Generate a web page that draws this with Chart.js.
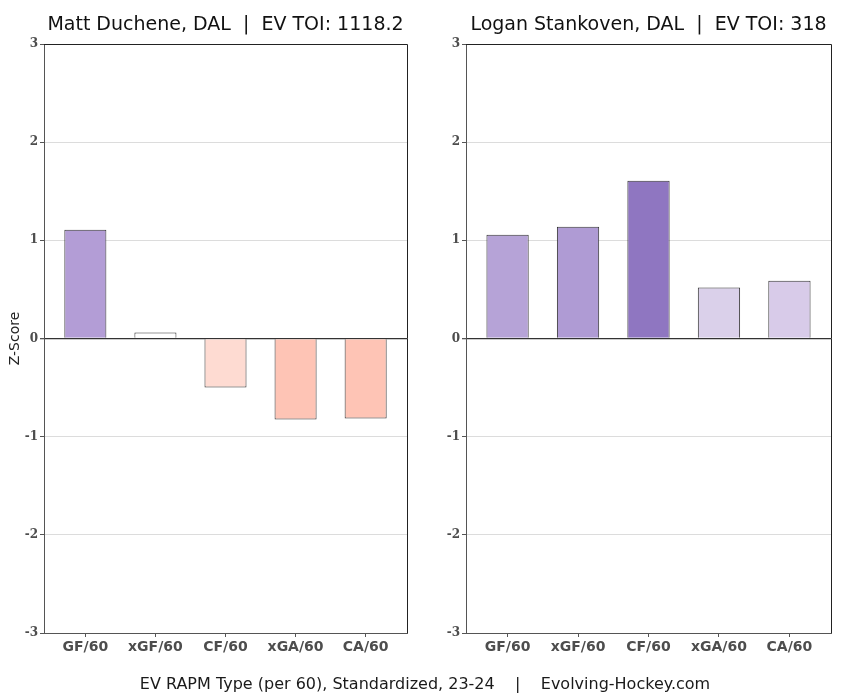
<!DOCTYPE html>
<html><head><meta charset="utf-8">
<script src="https://cdn.jsdelivr.net/npm/chart.js@4"></script>
<style>
html,body{margin:0;padding:0;background:#fff;}
#wrap{position:relative;width:850px;height:700px;}
canvas{position:absolute;top:0;}
#footer{position:absolute;left:0;width:850px;top:674px;text-align:center;font-family:"DejaVu Sans";font-size:16px;color:#1a1a1a;white-space:pre;}
</style></head>
<body><div id="wrap">
<canvas id="c1" width="425" height="700" style="left:0"></canvas>
<canvas id="c2" width="425" height="700" style="left:425px"></canvas>
<div id="footer">EV RAPM Type (per 60), Standardized, 23-24    |    Evolving-Hockey.com</div>
</div>
<script>
const categories = ["GF/60", "xGF/60", "CF/60", "xGA/60", "CA/60"];
const yTicks = [-3, -2, -1, 0, 1, 2, 3];
const titleLeft = "Matt Duchene, DAL  |  EV TOI: 1118.2";
const titleRight = "Logan Stankoven, DAL  |  EV TOI: 318";
const valuesLeft = [1.107, 0.061, -0.50, -0.824, -0.814];
const valuesRight = [1.057, 1.138, 1.608, 0.52, 0.588];
const colorsLeft = ["#b39dd6", "#ffffff", "#fedbd2", "#fec4b5", "#fec4b5"];
const colorsRight = ["#b6a3d7", "#af9bd4", "#8f76c1", "#dad0ea", "#d8cbe9"];

function makeChart(id, values, colors, title, opts) {
  const decor = {
    id: 'decor',
    afterDraw(chart) {
      const ctx = chart.ctx, a = chart.chartArea;
      ctx.save();
      ctx.strokeStyle = '#222';
      ctx.lineWidth = 1;
      ctx.beginPath();
      ctx.moveTo(a.left, a.top + 0.5); ctx.lineTo(a.right + 0.5, a.top + 0.5);
      ctx.lineTo(a.right + 0.5, a.bottom);
      ctx.stroke();
      ctx.fillStyle = '#111';
      ctx.font = '19px "DejaVu Sans"';
      ctx.textAlign = 'center';
      ctx.textBaseline = 'middle';
      ctx.fillText(title, (a.left + a.right) / 2, 25);
      if (opts.yTitle) {
        ctx.translate(15, (a.top + a.bottom) / 2);
        ctx.rotate(-Math.PI / 2);
        ctx.font = '14px "DejaVu Sans"';
        ctx.fillStyle = '#222';
        ctx.fillText(opts.yTitle, 0, 0);
      }
      ctx.restore();
    }
  };
  return new Chart(document.getElementById(id), {
    type: 'bar',
    data: {
      datasets: [{
        data: values.map((v, i) => ({x: i, y: v})),
        backgroundColor: colors,
        borderColor: '#333',
        borderWidth: 1,
        barPercentage: 0.6,
        categoryPercentage: 1.0
      }]
    },
    options: {
      responsive: false,
      animation: false,
      devicePixelRatio: 1,
      layout: {padding: {top: 44, right: opts.padRight, left: 0, bottom: 0}},
      plugins: {legend: {display: false}, tooltip: {enabled: false}, title: {display: false}},
      scales: {
        x: {
          type: 'linear',
          offset: false,
          min: -0.59, max: 4.59,
          afterBuildTicks: s => { s.ticks = categories.map((_, i) => ({value: i})); },
          afterFit: s => { s.height = 67; },
          grid: {drawOnChartArea: false, tickLength: 4, tickColor: '#555', display: true, offset: false},
          border: {display: true, color: '#555', width: 1},
          ticks: {
            callback: v => categories[v],
            font: {family: '"DejaVu Sans"', weight: 'bold', size: 14},
            color: '#4d4d4d',
            padding: 2,
            maxRotation: 0, autoSkip: false
          }
        },
        y: {
          min: -3, max: 3,
          afterBuildTicks: s => { s.ticks = yTicks.map(v => ({value: v})); },
          afterFit: s => { s.width = opts.yWidth; },
          grid: {
            color: c => c.tick && c.tick.value === 0 ? '#333' : '#dcdcdc',
            lineWidth: c => c.tick && c.tick.value === 0 ? 1.3 : 1,
            tickLength: 4, tickColor: '#555'
          },
          border: {display: true, color: '#555', width: 1},
          ticks: {
            font: {family: '"DejaVu Serif"', weight: 'bold', size: 12},
            color: '#4d4d4d',
            padding: 2
          }
        }
      }
    },
    plugins: [decor]
  });
}

makeChart('c1', valuesLeft, colorsLeft, titleLeft, {yWidth: 44, padRight: 18, yTitle: 'Z-Score'});
makeChart('c2', valuesRight, colorsRight, titleRight, {yWidth: 41, padRight: 19});
</script>
</body></html>
